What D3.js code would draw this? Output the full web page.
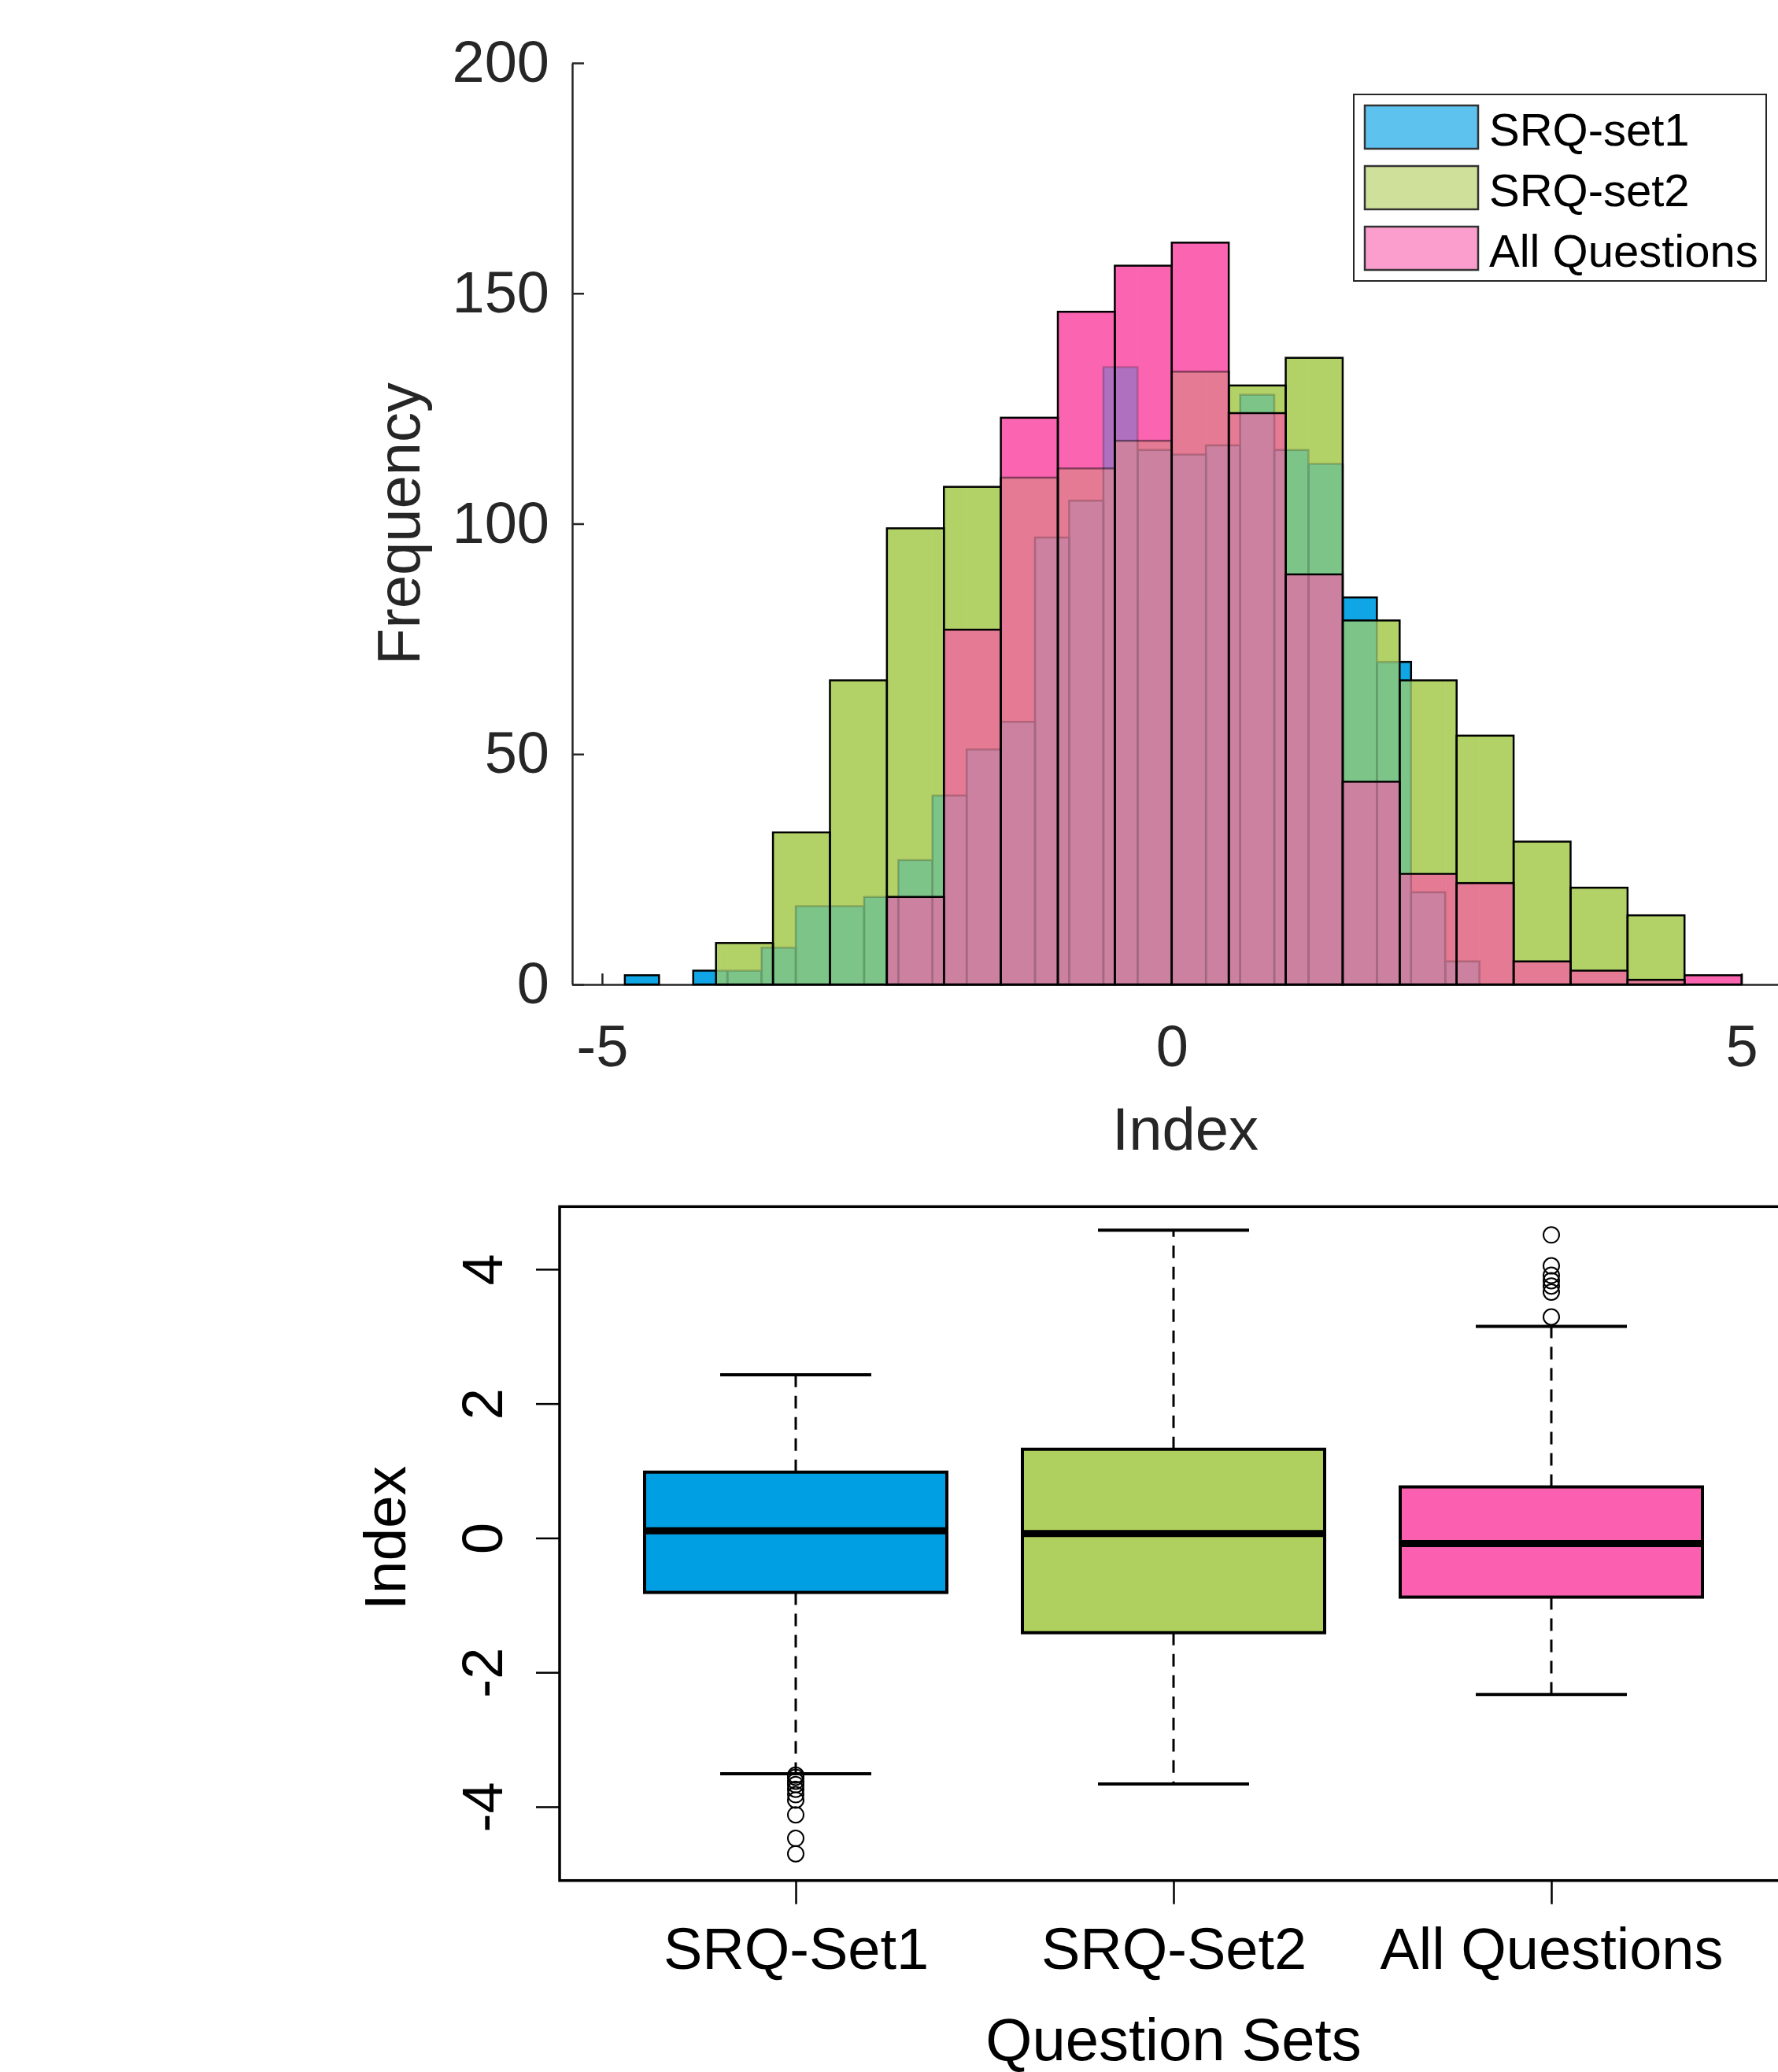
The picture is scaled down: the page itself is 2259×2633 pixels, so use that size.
<!DOCTYPE html>
<html lang="en">
<head>
<meta charset="UTF-8" />
<title>Index histogram and boxplot</title>
<script src="https://d3js.org/d3.v7.min.js"></script>
<style>
  body { margin: 0; background: #fff; }
  text { font-family: "Liberation Sans", Arial, sans-serif; }
</style>
</head>
<body>
<script>
// histogram data (counts per bin)
const blueStart = -4.8, blueWidth = 0.3;
const blueCounts = [2, 0, 3, 3, 8, 17, 17, 19, 27, 41, 51, 57, 97, 105, 134, 116, 115, 117, 128, 116, 113, 84, 70, 20, 5];
const greenStart = -4, greenWidth = 0.5;
const greenCounts = [9, 33, 66, 99, 108, 110, 112, 118, 133, 130, 136, 79, 66, 54, 31, 21, 15];
const pinkStart = -2.5, pinkWidth = 0.5;
const pinkCounts = [19, 77, 123, 146, 156, 161, 124, 89, 44, 24, 22, 5, 3, 1, 2];
const histNames = ["SRQ-set1", "SRQ-set2", "All Questions"];
const histXTicks = [-5, 0, 5];
const histYTicks = [0, 50, 100, 150, 200];

// boxplot data
const boxCategories = ["SRQ-Set1", "SRQ-Set2", "All Questions"];
const boxQ1 = [-0.81, -1.41, -0.88];
const boxMedian = [0.107, 0.067, -0.083];
const boxQ3 = [0.98, 1.32, 0.76];
const whiskerLow = [-3.51, -3.66, -2.33];
const whiskerHigh = [2.43, 4.58, 3.15];
const outliersSet1 = [-3.53, -3.56, -3.62, -3.67, -3.74, -3.82, -3.9, -4.12, -4.47, -4.7];
const outliersSet2 = [];
const outliersAll = [3.29, 3.66, 3.75, 3.83, 3.91, 4.05, 4.51];
const boxYTicks = [-4, -2, 0, 2, 4];

const W = 2259, H = 2633;
const font = "'Liberation Sans', Arial, sans-serif";
const axisGray = "#262626";

const svg = d3.select("body").append("svg")
  .attr("width", W).attr("height", H)
  .attr("viewBox", `0 0 ${W} ${H}`);
svg.append("rect").attr("width", W).attr("height", H).attr("fill", "#fff");
const defs = svg.append("defs");

// ---------- top: overlapping histograms ----------
const x = d3.scaleLinear().domain([-5.262, 5.5]).range([727, 2285]);
const y = d3.scaleLinear().domain([0, 200]).range([1251, 80]);

const toBins = (start, width, counts) =>
  counts.map((n, i) => ({ x0: start + i * width, x1: start + (i + 1) * width, n }));
const blueBins = toBins(blueStart, blueWidth, blueCounts);
const greenBins = toBins(greenStart, greenWidth, greenCounts);
const pinkBins = toBins(pinkStart, pinkWidth, pinkCounts);
const series = [
  { key: "b", bins: blueBins },
  { key: "g", bins: greenBins },
  { key: "p", bins: pinkBins }
];

// axes first (MATLAB draws them under the bars)
const gx = svg.append("g").attr("transform", "translate(0,1251)")
  .call(d3.axisBottom(x).tickValues(histXTicks).tickFormat(d => String(d))
    .tickSizeInner(-14).tickSizeOuter(0).tickPadding(51));
const gy = svg.append("g").attr("transform", "translate(727,0)")
  .call(d3.axisLeft(y).tickValues(histYTicks).tickFormat(d => String(d))
    .tickSizeInner(-15).tickSizeOuter(0).tickPadding(29));
[gx, gy].forEach(g => {
  g.select(".domain").attr("stroke", axisGray).attr("stroke-width", 2.5);
  g.selectAll(".tick line").attr("stroke", axisGray).attr("stroke-width", 2.5);
  g.selectAll(".tick text").attr("fill", axisGray).attr("font-size", 74).attr("font-family", font);
});

// split into elementary pieces so each overlap gets its own colour
const regionColor = {
  b: "#10a5e4", g: "#b2d268", p: "#fa64b0",
  bg: "#7cc487", bp: "#b070c0", gp: "#e47a94", bgp: "#cd81a0"
};
const countAt = (bins, m) => {
  const b = bins.find(d => d.x0 <= m && m < d.x1);
  return b ? b.n : 0;
};
const edges = Array.from(new Set(
  series.flatMap(s => s.bins.flatMap(d => [d.x0, d.x1])).map(v => +v.toFixed(6))
)).sort((a, b) => a - b);
const pieces = [];
for (let i = 0; i < edges.length - 1; i++) {
  const a = edges[i], b = edges[i + 1], m = (a + b) / 2;
  const hs = series.map(s => countAt(s.bins, m));
  const levels = Array.from(new Set(hs.filter(h => h > 0))).sort((p, q) => p - q);
  let prev = 0;
  levels.forEach(L => {
    const key = series.filter((s, j) => hs[j] >= L).map(s => s.key).join("");
    pieces.push({ a, b, lo: prev, hi: L, key });
    prev = L;
  });
}
svg.append("g").selectAll("rect").data(pieces).join("rect")
  .attr("x", d => x(d.a)).attr("width", d => x(d.b) - x(d.a))
  .attr("y", d => y(d.hi)).attr("height", d => y(d.lo) - y(d.hi))
  .attr("fill", d => regionColor[d.key])
  .attr("stroke", d => regionColor[d.key]).attr("stroke-width", 0.6);

// clip + mask for edges covered by later (semi-transparent) layers
function coverDefs(id, binsList) {
  const cp = defs.append("clipPath").attr("id", id + "-in");
  const mk = defs.append("mask").attr("id", id + "-out")
    .attr("maskUnits", "userSpaceOnUse").attr("x", 0).attr("y", 0).attr("width", W).attr("height", H);
  mk.append("rect").attr("width", W).attr("height", H).attr("fill", "#fff");
  binsList.flat().filter(d => d.n > 0).forEach(d => {
    [cp, mk].forEach(el => el.append("rect")
      .attr("x", x(d.x0)).attr("width", x(d.x1) - x(d.x0))
      .attr("y", y(d.n)).attr("height", y(0) - y(d.n))
      .attr("fill", el === mk ? "#000" : null));
  });
}
coverDefs("coverBlue", [greenBins, pinkBins]);
coverDefs("coverGreen", [pinkBins]);

function outlines(bins, g) {
  g.selectAll("rect").data(bins).join("rect")
    .attr("x", d => x(d.x0)).attr("width", d => x(d.x1) - x(d.x0))
    .attr("y", d => y(d.n)).attr("height", d => y(0) - y(d.n))
    .attr("fill", "none").attr("stroke", "#000").attr("stroke-width", 2.5);
}
outlines(blueBins, svg.append("g").attr("clip-path", "url(#coverBlue-in)").attr("opacity", 0.2));
outlines(blueBins, svg.append("g").attr("mask", "url(#coverBlue-out)"));
outlines(greenBins, svg.append("g").attr("clip-path", "url(#coverGreen-in)").attr("opacity", 0.45));
outlines(greenBins, svg.append("g").attr("mask", "url(#coverGreen-out)"));
outlines(pinkBins, svg.append("g"));

// axis titles
svg.append("text").attr("x", (x.range()[0] + x.range()[1]) / 2).attr("y", 1461)
  .attr("text-anchor", "middle").attr("font-size", 76).attr("fill", axisGray).text("Index");
svg.append("text").attr("transform", `translate(533,${(y(0) + y(200)) / 2}) rotate(-90)`)
  .attr("text-anchor", "middle").attr("font-size", 76).attr("fill", axisGray).text("Frequency");

// legend
const legendColors = ["#5ec2ee", "#cfe09b", "#fb9dcd"];
const lg = svg.append("g");
lg.append("rect").attr("x", 1720).attr("y", 120).attr("width", 524).attr("height", 237)
  .attr("fill", "#fff").attr("stroke", axisGray).attr("stroke-width", 2);
histNames.forEach((name, i) => {
  lg.append("rect").attr("x", 1734).attr("y", 134 + i * 77).attr("width", 144).attr("height", 55)
    .attr("fill", legendColors[i]).attr("stroke", "#333").attr("stroke-width", 2.5);
  lg.append("text").attr("x", 1892).attr("y", 185 + i * 77)
    .attr("font-size", 58).attr("fill", "#000").text(name);
});

// ---------- bottom: boxplot ----------
const xb = d3.scaleLinear().domain([0.375, 3.625]).range([711, 2271]);
const yb = d3.scaleLinear().domain([-5.098, 4.932]).range([2389.7, 1533.3]);
const boxFill = ["#009fe3", "#afd05f", "#fb5fb0"];
const boxHalf = 0.4, capHalf = 0.2;
const outliers = [outliersSet1, outliersSet2, outliersAll];

const bx = svg.append("g");
boxCategories.forEach((c, i) => {
  const cx = xb(i + 1);
  [[boxQ3[i], whiskerHigh[i]], [boxQ1[i], whiskerLow[i]]].forEach(([a, b]) => {
    bx.append("line").attr("x1", cx).attr("x2", cx).attr("y1", yb(a)).attr("y2", yb(b))
      .attr("stroke", "#000").attr("stroke-width", 3).attr("stroke-dasharray", "16,11");
    bx.append("line").attr("x1", xb(i + 1 - capHalf)).attr("x2", xb(i + 1 + capHalf))
      .attr("y1", yb(b)).attr("y2", yb(b)).attr("stroke", "#000").attr("stroke-width", 4);
  });
  bx.append("rect").attr("x", xb(i + 1 - boxHalf)).attr("width", xb(i + 1 + boxHalf) - xb(i + 1 - boxHalf))
    .attr("y", yb(boxQ3[i])).attr("height", yb(boxQ1[i]) - yb(boxQ3[i]))
    .attr("fill", boxFill[i]).attr("stroke", "#000").attr("stroke-width", 4);
  bx.append("line").attr("x1", xb(i + 1 - boxHalf)).attr("x2", xb(i + 1 + boxHalf))
    .attr("y1", yb(boxMedian[i])).attr("y2", yb(boxMedian[i]))
    .attr("stroke", "#000").attr("stroke-width", 9);
  bx.append("g").selectAll("circle").data(outliers[i]).join("circle")
    .attr("cx", cx).attr("cy", d => yb(d)).attr("r", 10)
    .attr("fill", "none").attr("stroke", "#000").attr("stroke-width", 2);
});

// frame and axes
svg.append("rect").attr("x", 711).attr("y", 1533.3).attr("width", 2271 - 711).attr("height", 2389.7 - 1533.3)
  .attr("fill", "none").attr("stroke", "#000").attr("stroke-width", 3.5);
const gby = svg.append("g").attr("transform", "translate(711,0)")
  .call(d3.axisLeft(yb).tickValues(boxYTicks).tickSize(30).tickSizeOuter(0));
gby.select(".domain").remove();
gby.selectAll(".tick line").attr("stroke", "#000").attr("stroke-width", 2.5);
gby.selectAll(".tick text").remove();
gby.selectAll(".tick").append("text")
  .attr("transform", "translate(-73,0) rotate(-90)")
  .attr("text-anchor", "middle").attr("font-size", 72).attr("font-family", font).attr("fill", "#000")
  .text(d => String(d));

const gbx = svg.append("g").attr("transform", "translate(0,2389.7)")
  .call(d3.axisBottom(xb).tickValues([1, 2, 3]).tickSize(30).tickSizeOuter(0)
    .tickFormat(d => boxCategories[d - 1]).tickPadding(30));
gbx.select(".domain").remove();
gbx.selectAll(".tick line").attr("stroke", "#000").attr("stroke-width", 2.5);
gbx.selectAll(".tick text").attr("font-size", 74).attr("font-family", font).attr("fill", "#000");

svg.append("text").attr("x", xb(2)).attr("y", 2618).attr("text-anchor", "middle")
  .attr("font-size", 76).attr("fill", "#000").text("Question Sets");
svg.append("text").attr("transform", `translate(515,${yb(0)}) rotate(-90)`)
  .attr("text-anchor", "middle").attr("font-size", 75).attr("fill", "#000").text("Index");
</script>
</body>
</html>
